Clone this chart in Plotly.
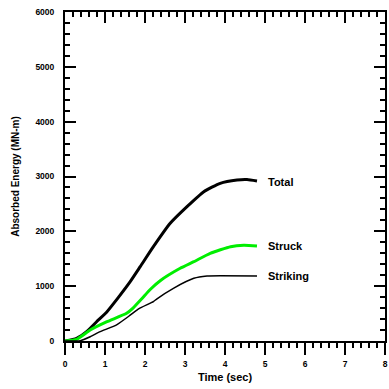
import plotly.graph_objects as go

# Time (sec) and absorbed energy (MN-m)
total_t = [0.0, 0.29, 0.54, 0.79, 1.05, 1.34, 1.63, 1.88, 2.21, 2.63, 3.05, 3.47, 3.88, 4.30, 4.55, 4.80]
total_e = [0, 50, 170, 352, 535, 800, 1082, 1355, 1720, 2146, 2450, 2723, 2876, 2936, 2945, 2918]

struck_t = [0.0, 0.29, 0.63, 1.05, 1.54, 1.70, 1.92, 2.13, 2.38, 2.88, 3.22, 3.63, 4.14, 4.47, 4.80]
struck_e = [0, 30, 200, 352, 505, 600, 770, 940, 1100, 1326, 1446, 1600, 1720, 1745, 1733]

striking_t = [0.0, 0.38, 0.63, 0.88, 1.30, 1.63, 1.85, 2.21, 2.30, 2.71, 3.22, 3.55, 3.88, 4.80]
striking_e = [0, 5, 78, 170, 300, 470, 590, 717, 770, 961, 1143, 1185, 1191, 1185]

series_names = ["Total", "Struck", "Striking"]
label_t = [5.03, 5.03, 5.03]
label_e = [2900, 1740, 1185]

x_range = [0, 8]
y_range = [0, 6000]

font_family = "Arial, Liberation Sans, sans-serif"

fig = go.Figure()
fig.add_trace(go.Scatter(x=total_t, y=total_e, mode="lines", name="Total",
                         line=dict(color="black", width=3, shape="spline", smoothing=0.5)))
fig.add_trace(go.Scatter(x=struck_t, y=struck_e, mode="lines", name="Struck",
                         line=dict(color="#00ee00", width=3, shape="spline", smoothing=0.5)))
fig.add_trace(go.Scatter(x=striking_t, y=striking_e, mode="lines", name="Striking",
                         line=dict(color="black", width=1.5, shape="spline", smoothing=0.5)))
# invisible trace to anchor the top axis
fig.add_trace(go.Scatter(x=[x_range[0]], y=[y_range[0]], xaxis="x2", mode="markers",
                         marker=dict(opacity=0), hoverinfo="skip", showlegend=False))

for name, tx, ey in zip(series_names, label_t, label_e):
    fig.add_annotation(x=tx, y=ey, text="<b>%s</b>" % name, showarrow=False,
                       xanchor="left", yanchor="middle",
                       font=dict(family=font_family, size=11, color="black"))

fig.update_layout(
    width=389, height=389,
    margin=dict(l=65, r=4, t=12, b=48),
    plot_bgcolor="white", paper_bgcolor="white",
    showlegend=False,
    font=dict(family=font_family, color="black"),
    xaxis=dict(
        range=x_range, dtick=1, tick0=0, automargin=False,
        showline=True, linecolor="black", linewidth=2,
        ticks="outside", ticklen=12, tickwidth=2, tickcolor="black",
        minor=dict(dtick=0.2, ticks="outside", ticklen=5, tickwidth=2, tickcolor="black"),
        showgrid=False, zeroline=False, ticklabelstandoff=2,
        tickfont=dict(size=8.5, family=font_family, weight="bold"),
        title=dict(text="<b>Time (sec)</b>", font=dict(size=11, family=font_family), standoff=5),
    ),
    xaxis2=dict(
        range=x_range, dtick=1, tick0=0, overlaying="x", side="top", automargin=False,
        showline=True, linecolor="black", linewidth=2,
        ticks="inside", ticklen=11, tickwidth=2, tickcolor="black",
        minor=dict(dtick=0.2, ticks="inside", ticklen=5, tickwidth=2, tickcolor="black"),
        showgrid=False, zeroline=False, showticklabels=False,
    ),
    yaxis=dict(
        range=y_range, dtick=1000, tick0=0, automargin=False,
        showline=True, linecolor="black", linewidth=2, mirror="ticks",
        ticks="inside", ticklen=11, tickwidth=2, tickcolor="black",
        minor=dict(dtick=200, ticks="inside", ticklen=5, tickwidth=2, tickcolor="black"),
        showgrid=False, zeroline=False, ticklabelstandoff=7,
        tickfont=dict(size=8.5, family=font_family, weight="bold"),
        title=dict(text="<b>Absorbed Energy (MN-m)</b>", font=dict(size=10, family=font_family), standoff=14),
    ),
)

fig.write_html("out.html", config={"displayModeBar": False},
               post_script="document.body.style.margin='0';")
